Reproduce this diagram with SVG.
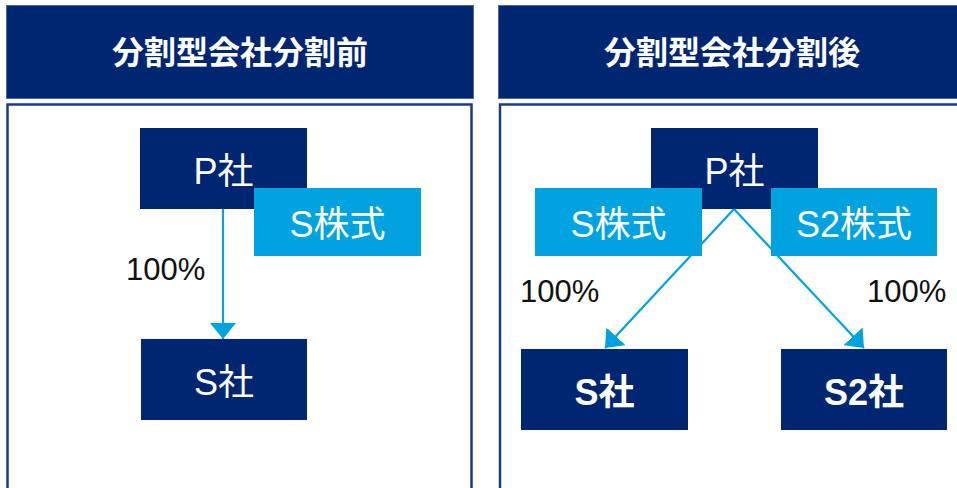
<svg xmlns="http://www.w3.org/2000/svg" width="957" height="488" viewBox="0 0 957 488">
<style>
.hdr{fill:#002672;stroke:#4A6AA0;stroke-width:1}
.hdrt{fill:#fff;font-family:"Liberation Sans","Noto Sans CJK JP",sans-serif;font-weight:bold;font-size:32px;text-anchor:middle}
.panel{fill:#fff;stroke:#1A3A82;stroke-width:2.5}
.dark{fill:#002672}
.light{fill:#00A3DF}
.bt{fill:#fff;font-family:"Liberation Sans","Noto Sans CJK JP",sans-serif;font-size:36px;text-anchor:middle}
.bb{font-weight:bold}
.pct{fill:#111;font-family:"Liberation Sans","Noto Sans CJK JP",sans-serif;font-size:31px}
.conn{stroke:#00A3DF;stroke-width:2.2;fill:none}
</style>
<defs>
<marker id="ah" viewBox="0 0 16 26" refX="16" refY="13" markerWidth="16" markerHeight="26" markerUnits="userSpaceOnUse" orient="auto">
<path d="M0,0 L16,13 L0,26 Z" fill="#00A3DF"/>
</marker>
</defs>
<rect width="957" height="488" fill="#fff"/>
<g id="header-before"><rect class="hdr" x="6.5" y="5.5" width="467" height="93"/><text class="hdrt" x="240" y="64">分割型会社分割前</text></g>
<g id="header-after"><rect class="hdr" x="498.5" y="5.5" width="470" height="93"/><text class="hdrt" x="732" y="64">分割型会社分割後</text></g>
<g id="panel-before"><rect class="panel" x="7.5" y="104.5" width="464" height="400"/></g>
<g id="panel-after"><rect class="panel" x="500" y="104.5" width="470" height="400"/></g>
<g id="connectors">
<line class="conn" x1="223" y1="209" x2="223" y2="339" marker-end="url(#ah)"/>
<line class="conn" x1="734" y1="209" x2="605" y2="348" marker-end="url(#ah)"/>
<line class="conn" x1="734" y1="209" x2="864" y2="348" marker-end="url(#ah)"/>
</g>
<g id="p-before"><rect class="dark" x="140" y="128" width="167" height="81"/><text class="bt" x="223.5" y="184">P社</text></g>
<g id="sstock-before"><rect class="light" x="254" y="188" width="167" height="68"/><text class="bt" x="337.5" y="237">S株式</text></g>
<g id="s-before"><rect class="dark" x="141" y="339" width="166" height="81"/><text class="bt" x="224" y="395">S社</text></g>
<text class="pct" x="126" y="280">100%</text>
<g id="p-after"><rect class="dark" x="651" y="128" width="167" height="81"/><text class="bt" x="734.5" y="184">P社</text></g>
<g id="sstock-after"><rect class="light" x="535" y="188" width="167" height="68"/><text class="bt" x="618.5" y="237">S株式</text></g>
<g id="s2stock-after"><rect class="light" x="771" y="188" width="166" height="68"/><text class="bt" x="854" y="237">S2株式</text></g>
<g id="s-after"><rect class="dark" x="521" y="349" width="167" height="81"/><text class="bt bb" x="604.5" y="405">S社</text></g>
<g id="s2-after"><rect class="dark" x="781" y="349" width="166" height="81"/><text class="bt bb" x="864" y="405">S2社</text></g>
<text class="pct" x="520" y="302">100%</text>
<text class="pct" x="867" y="302">100%</text>
</svg>
